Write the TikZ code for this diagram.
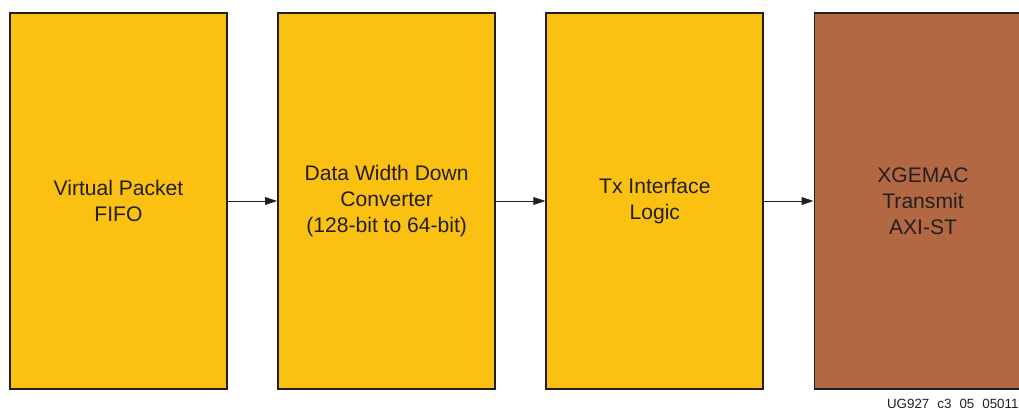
\documentclass[tikz,border=0pt]{standalone}
\usepackage{fontspec}
\setmainfont{Liberation Sans}
\usetikzlibrary{positioning,arrows.meta}
\definecolor{blkyellow}{RGB}{251,193,18}
\definecolor{blkbrown}{RGB}{178,104,66}
\definecolor{blkline}{RGB}{35,31,32}
\tikzset{
  blk/.style={draw=blkline, line width=1.4pt, fill=blkyellow, text=blkline,
    minimum width=5.425cm, minimum height=9.4cm, align=center,
    font=\fontsize{15}{18.5}\selectfont},
  flow/.style={draw=blkline, line width=0.7pt, -{Triangle[length=8.5pt,width=5.5pt]}}
}
\begin{document}
\begin{tikzpicture}[node distance=1.23cm]
      \clip (0,0) rectangle (25.475,-10.25);
      \node[name=fifo, blk] at (2.9625,-5.025) {Virtual Packet\\FIFO};
      \node[name=dwc, blk, right=of fifo] {Data Width Down\\Converter\\(128-bit to 64-bit)};
      \node[name=txif, blk, right=of dwc] {Tx Interface\\Logic};
      \node[name=mac, blk, fill=blkbrown, right=of txif] {XGEMAC\\Transmit\\AXI-ST};
      \draw[flow] (fifo) -- (dwc);
      \draw[flow] (dwc) -- (txif);
      \draw[flow] (txif) -- (mac);
      \node[name=tag, anchor=base east, inner sep=0pt, text=blkline,
        font=\fontsize{9.5}{10}\selectfont] at (25.47,-10.2) {\spaceskip=0.6em\relax UG927 c3 05 05011};
    \end{tikzpicture}
\end{document}
